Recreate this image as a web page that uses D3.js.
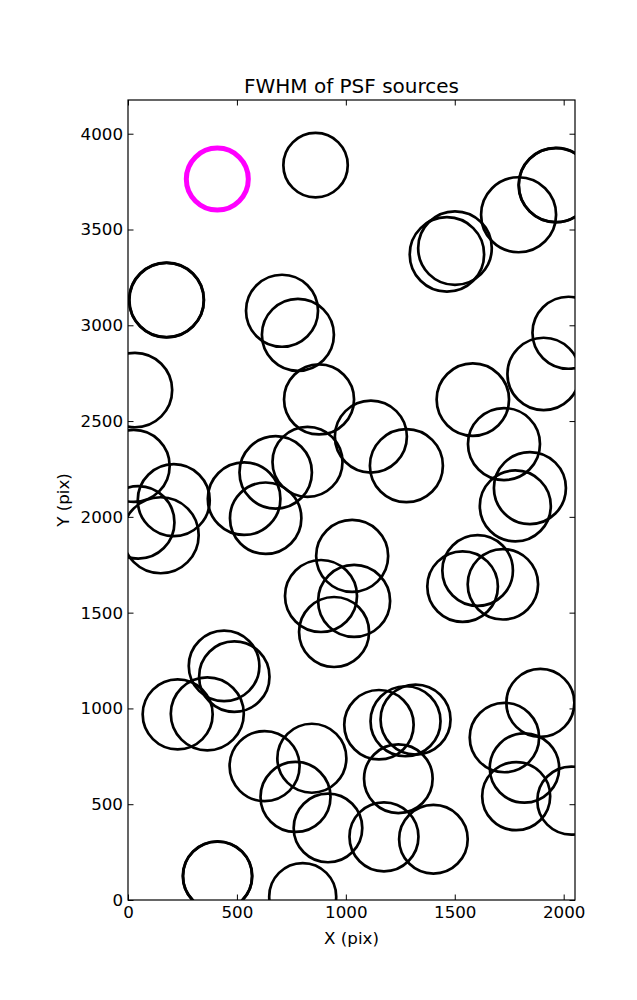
<!DOCTYPE html>
<html>
<head>
<meta charset="utf-8">
<script src="https://cdn.jsdelivr.net/npm/d3@7"></script>
<style>
  html, body { margin: 0; padding: 0; background: #fff; }
  svg { display: block; }
  text { font-family: "DejaVu Sans", sans-serif; fill: #000; }
</style>
</head>
<body>
<svg id="chart" width="637" height="1000"></svg>
<script>
// ---- data (source positions in detector pixels, FWHM) ----
const srcX = [861, 1964, 1964, 1793, 1501, 1464, 177, 177, 707, 780, 2022, 32, 877, 1583, 1908,
  1115, 1278, 824, 1726, 1845, 1778, 1605, 1536, 1721, 1029, 1038, 886, 946, 26, 210, 47, 150,
  533, 678, 632, 228, 364, 441, 488, 627, 844, 769, 918, 411, 411, 802, 1152, 1274, 1320, 1241,
  1175, 1402, 1728, 1893, 1820, 1782, 2035];
const srcY = [3836, 3732, 3732, 3577, 3403, 3370, 3132, 3132, 3076, 2950, 2961, 2662, 2613, 2612, 2746,
  2419, 2267, 2287, 2380, 2150, 2057, 1720, 1636, 1648, 1796, 1561, 1587, 1399, 2266, 2087, 1971, 1904,
  2095, 2232, 1993, 969, 972, 1222, 1166, 699, 740, 538, 376, 125, 125, 18, 915, 933, 942, 633,
  330, 317, 848, 1029, 689, 542, 519];
const srcFwhm = [3.22, 3.70, 3.72, 3.75, 3.68, 3.72, 3.72, 3.74, 3.60, 3.60, 3.60, 3.72, 3.50, 3.62, 3.62,
  3.60, 3.65, 3.50, 3.60, 3.60, 3.55, 3.53, 3.53, 3.52, 3.60, 3.60, 3.60, 3.50, 3.60, 3.60, 3.62, 3.80,
  3.63, 3.62, 3.57, 3.50, 3.65, 3.53, 3.52, 3.50, 3.45, 3.50, 3.43, 3.45, 3.47, 3.35, 3.47, 3.50, 3.50, 3.43,
  3.45, 3.43, 3.47, 3.40, 3.47, 3.40, 3.40];
// highlighted (selected) source
const selX = [410];
const selY = [3763];
const selFwhm = [3.1];

const xTicks = [0, 500, 1000, 1500, 2000];
const yTicks = [0, 500, 1000, 1500, 2000, 2500, 3000, 3500, 4000];
const xDomain = [0, 2052];
const yDomain = [0, 4176];

// ---- layout ----
const svg = d3.select("#chart");
const m = {left: 128, right: 62, top: 100, bottom: 100};
const W = 637, H = 1000;
const iw = W - m.left - m.right, ih = H - m.top - m.bottom;

const x = d3.scaleLinear().domain(xDomain).range([m.left, m.left + iw]);
const y = d3.scaleLinear().domain(yDomain).range([m.top + ih, m.top]);
const r = d3.scaleLinear().domain([0, 1]).range([0, 10]);

svg.append("defs").append("clipPath").attr("id", "clip")
  .append("rect").attr("x", m.left).attr("y", m.top).attr("width", iw).attr("height", ih);

const sources = srcX.map((d, i) => ({x: d, y: srcY[i], f: srcFwhm[i]}));
const selected = selX.map((d, i) => ({x: d, y: selY[i], f: selFwhm[i]}));

const g = svg.append("g").attr("clip-path", "url(#clip)");
g.selectAll("circle.src").data(sources).join("circle")
  .attr("class", "src")
  .attr("cx", d => x(d.x)).attr("cy", d => y(d.y)).attr("r", d => r(d.f))
  .attr("fill", "none").attr("stroke", "#000").attr("stroke-width", 2.7);
g.selectAll("circle.sel").data(selected).join("circle")
  .attr("class", "sel")
  .attr("cx", d => x(d.x)).attr("cy", d => y(d.y)).attr("r", d => r(d.f))
  .attr("fill", "none").attr("stroke", "#ff00ff").attr("stroke-width", 5);

// ---- axes (classic matplotlib style: inward ticks on all sides) ----
const tickLen = 5.5;
const fs = 16.7;
const axB = svg.append("g").attr("transform", `translate(0,${m.top + ih})`)
  .call(d3.axisBottom(x).tickValues(xTicks).tickSize(-tickLen).tickPadding(6).tickFormat(d3.format("d")));
const axT = svg.append("g").attr("transform", `translate(0,${m.top})`)
  .call(d3.axisTop(x).tickValues(xTicks).tickSize(-tickLen).tickFormat(""));
const axL = svg.append("g").attr("transform", `translate(${m.left},0)`)
  .call(d3.axisLeft(y).tickValues(yTicks).tickSize(-tickLen).tickPadding(5).tickFormat(d3.format("d")));
const axR = svg.append("g").attr("transform", `translate(${m.left + iw},0)`)
  .call(d3.axisRight(y).tickValues(yTicks).tickSize(-tickLen).tickFormat(""));
[axB, axT, axL, axR].forEach(a => {
  a.select(".domain").remove();
  a.selectAll(".tick line").attr("stroke", "#000").attr("stroke-width", 1);
  a.selectAll(".tick text").attr("font-size", fs).attr("font-family", "DejaVu Sans").attr("fill", "#000");
});

svg.append("rect").attr("x", m.left).attr("y", m.top).attr("width", iw).attr("height", ih)
  .attr("fill", "none").attr("stroke", "#000").attr("stroke-width", 1.2);

svg.append("text").attr("x", m.left + iw / 2).attr("y", 93).attr("text-anchor", "middle")
  .attr("font-size", 20).text("FWHM of PSF sources");
svg.append("text").attr("x", m.left + iw / 2).attr("y", 944).attr("text-anchor", "middle")
  .attr("font-size", fs).text("X (pix)");
svg.append("text").attr("transform", `translate(69,${m.top + ih / 2}) rotate(-90)`)
  .attr("text-anchor", "middle").attr("font-size", fs).text("Y (pix)");
</script>
</body>
</html>
